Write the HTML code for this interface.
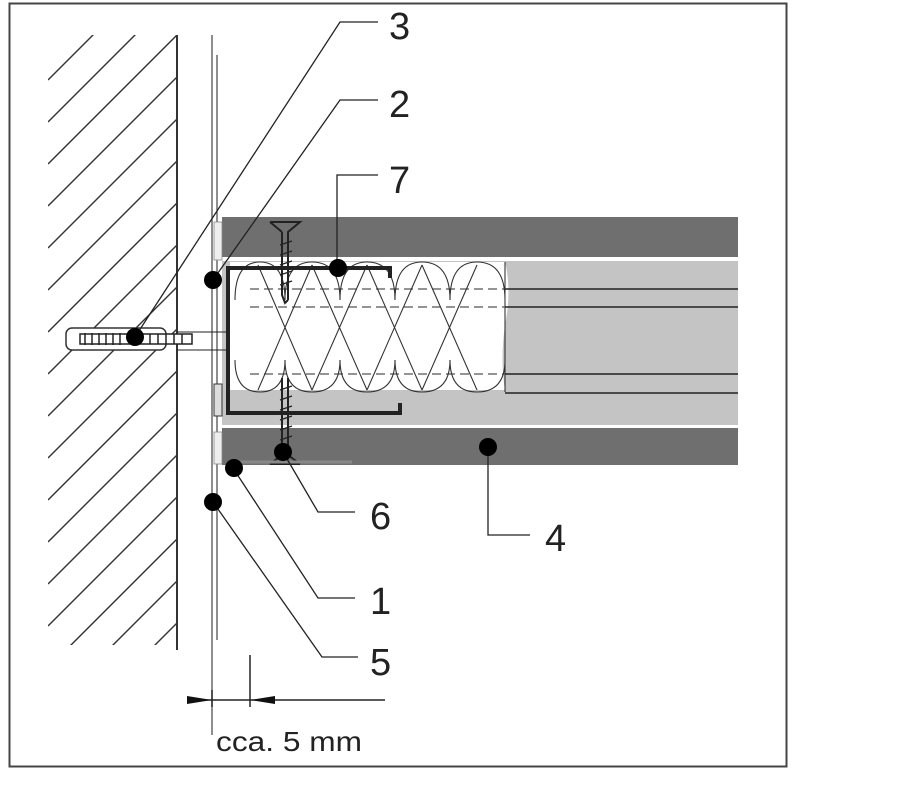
<!DOCTYPE html>
<html><head><meta charset="utf-8"><style>
html,body{margin:0;padding:0;background:#fff;}
svg{display:block;}
text{font-family:"Liberation Sans",sans-serif;fill:#222;}
</style></head><body>
<svg width="917" height="796" viewBox="0 0 917 796" xmlns="http://www.w3.org/2000/svg">
<defs>
<clipPath id="wall"><rect x="48" y="35" width="129" height="610"/></clipPath>
</defs>
<!-- frame -->
<rect x="9.5" y="3.5" width="777" height="763" fill="none" stroke="#444" stroke-width="2"/>
<!-- wall hatch -->
<g clip-path="url(#wall)" stroke="#333" stroke-width="1.4">
<line x1="48" y1="80" x2="140" y2="-12"/>
<line x1="48" y1="122" x2="177" y2="-7"/>
<line x1="48" y1="164" x2="177" y2="35"/>
<line x1="48" y1="206" x2="177" y2="77"/>
<line x1="48" y1="248" x2="177" y2="119"/>
<line x1="48" y1="290" x2="177" y2="161"/>
<line x1="48" y1="332" x2="177" y2="203"/>
<line x1="48" y1="374" x2="177" y2="245"/>
<line x1="48" y1="416" x2="177" y2="287"/>
<line x1="48" y1="458" x2="177" y2="329"/>
<line x1="48" y1="500" x2="177" y2="371"/>
<line x1="48" y1="542" x2="177" y2="413"/>
<line x1="48" y1="584" x2="177" y2="455"/>
<line x1="48" y1="626" x2="177" y2="497"/>
<line x1="48" y1="668" x2="177" y2="539"/>
<line x1="48" y1="710" x2="177" y2="581"/>
<line x1="48" y1="752" x2="177" y2="623"/>
</g>
<line x1="177" y1="35" x2="177" y2="650" stroke="#333" stroke-width="2"/>
<line x1="212" y1="35" x2="212" y2="735" stroke="#444" stroke-width="1.2"/>
<line x1="217" y1="55" x2="217" y2="640" stroke="#444" stroke-width="1.2"/>
<!-- boards -->
<rect x="222" y="217" width="516" height="40" fill="#6f6f6f"/>
<rect x="222" y="261" width="516" height="164" fill="#c4c4c4"/>
<rect x="222" y="428" width="516" height="37" fill="#6f6f6f"/>
<!-- insulation white -->
<path d="M230 262 H505 Q512 290 505 325 Q500 360 505 390 H230 Z" fill="#fff"/>
<g stroke="#222" stroke-width="1.5" fill="none">
<line x1="505" y1="289" x2="738" y2="289"/>
<line x1="505" y1="307" x2="738" y2="307"/>
<line x1="505" y1="374" x2="738" y2="374"/>
<line x1="505" y1="393" x2="738" y2="393"/>
<line x1="505" y1="262" x2="505" y2="392" stroke-width="1"/>
</g>
<g stroke="#555" stroke-width="1.3" stroke-dasharray="9,5">
<line x1="250" y1="289" x2="505" y2="289"/>
<line x1="250" y1="307" x2="505" y2="307"/>
<line x1="250" y1="374" x2="505" y2="374"/>
</g>
<!-- insulation loops -->
<g stroke="#333" stroke-width="1.1" fill="none">
<path d="M235 300 Q235 262 260 262 Q285 262 285 300"/>
<path d="M285 300 Q285 262 312 262 Q340 262 340 300"/>
<path d="M340 300 Q340 262 367 262 Q395 262 395 300"/>
<path d="M395 300 Q395 262 422 262 Q450 262 450 300"/>
<path d="M450 300 Q450 262 477 262 Q505 262 505 300"/>
<path d="M235 360 Q235 392 260 392 Q285 392 285 360"/>
<path d="M285 360 Q285 392 312 392 Q340 392 340 360"/>
<path d="M340 360 Q340 392 367 392 Q395 392 395 360"/>
<path d="M395 360 Q395 392 422 392 Q450 392 450 360"/>
<path d="M450 360 Q450 392 477 392 Q505 392 505 360"/>
<path d="M258 265 L312 390 M312 265 L258 390 M312 265 L367 390 M367 265 L312 390 M367 265 L422 390 M422 265 L367 390 M422 265 L477 390 M477 265 L422 390"/>
</g>
<!-- sealant -->
<rect x="214" y="222" width="8" height="38" fill="#eee" stroke="#888" stroke-width="0.8"/>
<rect x="214" y="384" width="8" height="32" fill="#ddd" stroke="#333" stroke-width="1"/>
<rect x="214" y="432" width="8" height="32" fill="#eee" stroke="#888" stroke-width="0.8"/>
<!-- C profile -->
<path d="M390 278 V268 H228 V413 H400 V403" fill="none" stroke="#222" stroke-width="4"/>
<!-- screws -->
<g stroke="#222" stroke-width="2" fill="none">
<path d="M270 222 H300 L288 232 V300 M282 232 V295 L285 303 L288 300 M282 232 L270 222"/>
<path d="M282 378 V455 M288 378 V455 M270 464 L282 455 M300 464 L288 455 M270 464 H300"/>
</g>
<g stroke="#222" stroke-width="1.2">
<line x1="280" y1="245" x2="292" y2="241"/><line x1="280" y1="255" x2="292" y2="251"/><line x1="280" y1="265" x2="292" y2="261"/><line x1="280" y1="275" x2="292" y2="271"/><line x1="280" y1="285" x2="292" y2="281"/>
<line x1="280" y1="390" x2="292" y2="386"/><line x1="280" y1="400" x2="292" y2="396"/><line x1="280" y1="410" x2="292" y2="406"/><line x1="280" y1="420" x2="292" y2="416"/><line x1="280" y1="430" x2="292" y2="426"/><line x1="280" y1="440" x2="292" y2="436"/>
</g>
<line x1="230" y1="462" x2="352" y2="462" stroke="#888" stroke-width="3"/>
<!-- anchor -->
<rect x="66" y="328" width="100" height="22" rx="6" fill="#fff" stroke="#333" stroke-width="1.5"/>
<rect x="80" y="334" width="112" height="10" fill="#fff" stroke="#222" stroke-width="1.5"/>
<g stroke="#222" stroke-width="1.5">
<line x1="85" y1="333" x2="85" y2="345"/><line x1="92" y1="333" x2="92" y2="345"/><line x1="99" y1="333" x2="99" y2="345"/><line x1="106" y1="333" x2="106" y2="345"/><line x1="113" y1="333" x2="113" y2="345"/><line x1="120" y1="333" x2="120" y2="345"/><line x1="150" y1="334" x2="150" y2="344"/><line x1="158" y1="334" x2="158" y2="344"/><line x1="166" y1="334" x2="166" y2="344"/><line x1="174" y1="334" x2="174" y2="344"/><line x1="182" y1="334" x2="182" y2="344"/>
<line x1="177" y1="332" x2="228" y2="332" stroke-width="1"/><line x1="177" y1="350" x2="228" y2="350" stroke-width="1"/>
</g>
<!-- leaders -->
<g stroke="#222" stroke-width="1.3" fill="none">
<path d="M135 337 L340 22 H378"/>
<path d="M213 280 L340 100 H378"/>
<path d="M337 268 V175 H378"/>
<path d="M283 452 L318 512 H355"/>
<path d="M488 447 V535 H530"/>
<path d="M233 468 L318 598 H355"/>
<path d="M213 502 L322 657 H358"/>
</g>
<g fill="#000">
<circle cx="213" cy="280" r="9"/><circle cx="135" cy="337" r="9"/><circle cx="338" cy="268" r="9"/>
<circle cx="283" cy="452" r="9"/><circle cx="234" cy="468" r="9"/><circle cx="213" cy="502" r="9"/><circle cx="488" cy="447" r="9"/>
</g>
<g font-size="38">
<text x="389" y="39">3</text>
<text x="389" y="117">2</text>
<text x="389" y="193">7</text>
<text x="370" y="529">6</text>
<text x="545" y="551">4</text>
<text x="370" y="614">1</text>
<text x="370" y="675">5</text>
</g>
<!-- dimension -->
<g stroke="#222" stroke-width="1.5">
<line x1="187" y1="700" x2="385" y2="700"/>
<line x1="250" y1="655" x2="250" y2="707"/>
<line x1="212" y1="690" x2="212" y2="707"/>
</g>
<path d="M187 696 L212 700 L187 704 Z M275 696 L250 700 L275 704 Z" fill="#111"/>
<text x="216" y="751" font-size="28" textLength="146" lengthAdjust="spacingAndGlyphs">cca. 5 mm</text>
</svg>
</body></html>
